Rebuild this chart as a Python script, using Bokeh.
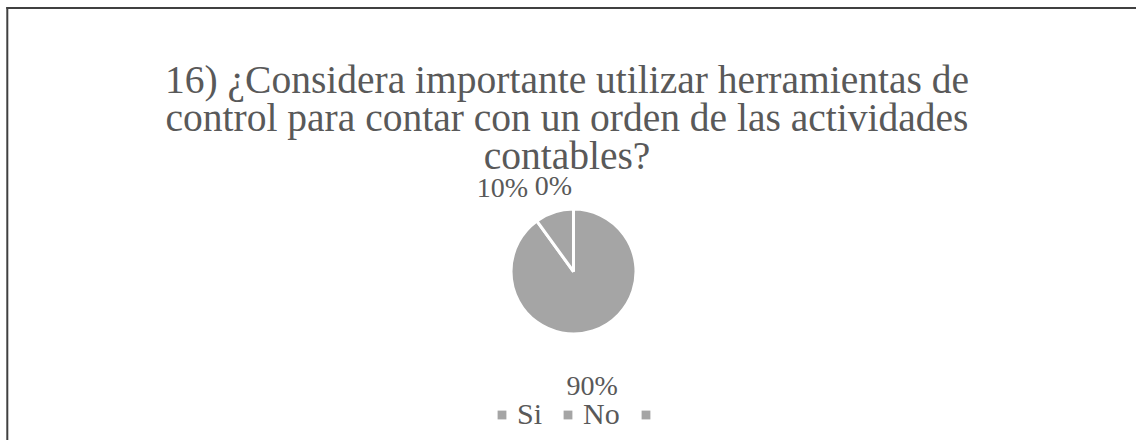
import math
from bokeh.plotting import figure
from bokeh.models import Range1d, Legend, LegendItem, ColumnDataSource
from bokeh.core.properties import value
from bokeh.embed import file_html
from bokeh.resources import INLINE

# ---- data ----
categories = ["Si", "No", " "]
values = [90, 10, 0]
pct_labels = ["90%", "10%", "0%"]
title_lines = [
    "16) ¿Considera importante utilizar herramientas de",
    "control para contar con un orden de las actividades",
    "contables?",
]

# ---- layout / style (pixel coordinates, y measured from top) ----
W, H = 1136, 440
FONT = "Liberation Serif"
TXT = "#595959"
SLICE = "#A5A5A5"
CX, CY, R = 573, 271, 62.5
LABEL_GAP = [40, 7, 7]                         # radial distance beyond the rim
LABEL_NUDGE = [(-13, 1), (-24, -2), (-20, -1)]  # best-fit collision shifts (px)
BORDER_X, BORDER_Y = 6.8, 7.5


def y_of(py):
    return H - py


p = figure(width=W, height=H, output_backend="svg", toolbar_location=None,
           x_range=Range1d(0, W), y_range=Range1d(0, H),
           min_border=0, outline_line_color=None)
p.axis.visible = False
p.grid.visible = False
p.background_fill_color = "white"
p.border_fill_color = "white"

# chart-area border (top & left edges are the visible ones)
p.segment(x0=[BORDER_X - 1, BORDER_X], y0=[y_of(BORDER_Y), y_of(BORDER_Y - 1)],
          x1=[W, BORDER_X], y1=[y_of(BORDER_Y), 0],
          line_color="#404040", line_width=2)

# title
for i, line in enumerate(title_lines):
    p.text(x=[566.5], y=[y_of(79 + 38 * i)], text=[line], text_font=value(FONT),
           text_font_size="39.5px", text_color=TXT, text_align="center",
           text_baseline="alphabetic")

# pie (Excel style: from 12 o'clock, clockwise)
total = sum(values)
starts, ends, lx, ly, aligns, bases = [], [], [], [], [], []
cum = 0.0
for i, v in enumerate(values):
    a0 = cum / total * 2 * math.pi
    a1 = (cum + v) / total * 2 * math.pi
    starts.append(math.pi / 2 - a1)
    ends.append(math.pi / 2 - a0)
    mid = (a0 + a1) / 2
    dx, dy = math.sin(mid), math.cos(mid)
    rr = R + LABEL_GAP[i]
    lx.append(CX + rr * dx + LABEL_NUDGE[i][0])
    ly.append(y_of(CY) + rr * dy - LABEL_NUDGE[i][1])
    aligns.append("right" if dx < -0.15 else "center")
    bases.append("bottom" if dy > 0 else "top")
    cum += v

# zero-size slices have no area: only draw slices with a value
keep = [i for i, v in enumerate(values) if v > 0]
wedge_src = ColumnDataSource(dict(cat=[categories[i] for i in keep],
                                  start=[starts[i] for i in keep],
                                  end=[ends[i] for i in keep]))
p.wedge(x=CX, y=y_of(CY), radius=R, start_angle="start", end_angle="end",
        direction="anticlock", fill_color=SLICE, line_color="white", line_width=3,
        source=wedge_src)

lab_src = ColumnDataSource(dict(lx=lx, ly=ly, lab=pct_labels, al=aligns, bl=bases))
p.text(x="lx", y="ly", text="lab", text_align="al", text_baseline="bl",
       text_font=value(FONT), text_font_size="28px", text_color=TXT, source=lab_src)

# legend
items = []
for c in categories:
    r = p.rect(x=[float("nan")], y=[float("nan")], width=1, height=1,
               fill_color=SLICE, line_color=None)
    items.append(LegendItem(label=c, renderers=[r]))

legend = Legend(items=items, orientation="horizontal", location=(496, 9),
                glyph_width=11, glyph_height=11, label_standoff=10, spacing=20,
                padding=0, margin=0, border_line_color=None,
                background_fill_alpha=0, label_text_font=FONT,
                label_text_font_size="30px", label_text_color=TXT)
p.add_layout(legend, "center")

open("out.html", "w").write(file_html(p, INLINE))
